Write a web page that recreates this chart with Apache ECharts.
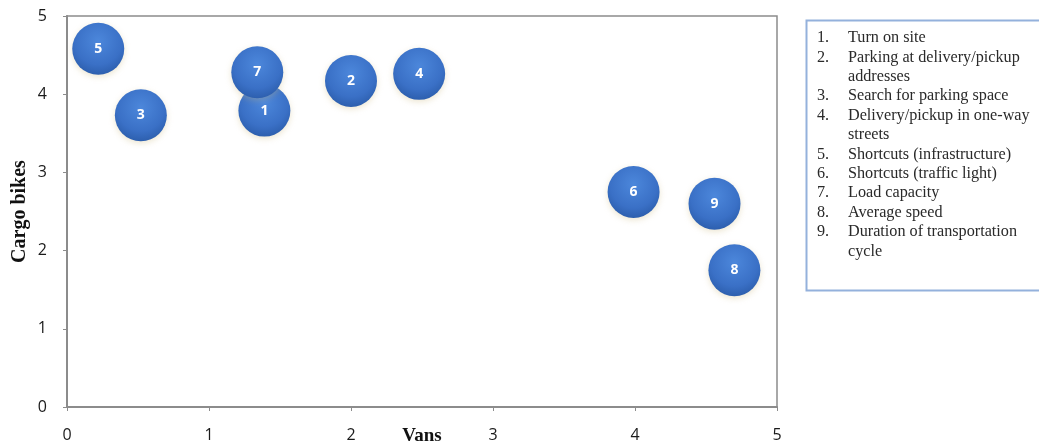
<!DOCTYPE html>
<html>
<head>
<meta charset="utf-8">
<script src="https://cdn.jsdelivr.net/npm/echarts@6/dist/echarts.min.js"></script>
<style>
html,body{margin:0;padding:0;background:#fff;}
#chart{width:1039px;height:445px;}
</style>
</head>
<body>
<div id="chart"></div>
<script>
const ids = ['1','2','3','4','5','6','7','8','9'];
const vans = [1.39, 2.00, 0.52, 2.48, 0.22, 3.99, 1.34, 4.70, 4.56];
const cargoBikes = [3.79, 4.17, 3.73, 4.26, 4.58, 2.75, 4.28, 1.75, 2.60];
const xTicks = [0, 1, 2, 3, 4, 5];
const yTicks = [0, 1, 2, 3, 4, 5];
const legendNums = ['1.', '2.', '', '3.', '4.', '', '5.', '6.', '7.', '8.', '9.', ''];
const legendLines = ['Turn on site', 'Parking at delivery/pickup', 'addresses', 'Search for parking space',
  'Delivery/pickup in one-way', 'streets', 'Shortcuts (infrastructure)', 'Shortcuts (traffic light)',
  'Load capacity', 'Average speed', 'Duration of transportation', 'cycle'];

const data = ids.map((id, i) => [vans[i], cargoBikes[i], id]);

const chart = echarts.init(document.getElementById('chart'));
const legendGraphics = [{
  type: 'rect', shape: {x: 806.5, y: 20.5, width: 240, height: 270},
  style: {fill: '#fff', stroke: '#94b1dc', lineWidth: 2}
}];
legendLines.forEach((t, i) => {
  const y = 38 + i * 19.4;
  if (legendNums[i]) legendGraphics.push({type: 'text', x: 817, y: y,
    style: {text: legendNums[i], font: '16.2px "Liberation Serif"', fill: '#2a2a2a', verticalAlign: 'middle'}});
  legendGraphics.push({type: 'text', x: 848, y: y,
    style: {text: t, font: '16.2px "Liberation Serif"', fill: '#2a2a2a', verticalAlign: 'middle'}});
});

chart.setOption({
  animation: false,
  grid: {left: 67, right: 262, top: 16, bottom: 38, outerBoundsMode: 'none', containLabel: false,
    show: true, borderColor: '#8c8c8c', borderWidth: 1.5},
  xAxis: {
    type: 'value', min: 0, max: 5, interval: 1,
    name: 'Vans', nameLocation: 'middle', nameGap: 20, nameMoveOverlap: false,
    nameTextStyle: {fontFamily: 'Liberation Serif', fontWeight: 'bold', fontSize: 19, color: '#111'},
    axisLine: {show: true, lineStyle: {color: '#8c8c8c', width: 2}},
    axisTick: {show: true, length: 4, lineStyle: {color: '#8c8c8c'}},
    axisLabel: {fontFamily: 'Open Sans', fontSize: 16, color: '#1a1a1a', margin: 20,
      formatter: v => xTicks.includes(v) ? String(v) : ''},
    splitLine: {show: false}
  },
  yAxis: {
    type: 'value', min: 0, max: 5, interval: 1,
    name: 'Cargo bikes', nameLocation: 'middle', nameGap: 37, nameMoveOverlap: false,
    nameTextStyle: {fontFamily: 'Liberation Serif', fontWeight: 'bold', fontSize: 20, color: '#111'},
    axisLine: {show: true, lineStyle: {color: '#8c8c8c', width: 2}},
    axisTick: {show: true, length: 4, lineStyle: {color: '#8c8c8c'}},
    axisLabel: {fontFamily: 'Open Sans', fontSize: 16, color: '#1a1a1a', margin: 20,
      formatter: v => yTicks.includes(v) ? String(v) : ''},
    splitLine: {show: false}
  },
  series: [{
    type: 'scatter',
    data: data,
    symbolSize: 52,
    itemStyle: {
      opacity: 1,
      color: new echarts.graphic.RadialGradient(0.5, 0.35, 0.65, [
        {offset: 0, color: '#4c87db'},
        {offset: 0.7, color: '#3a70c6'},
        {offset: 1, color: '#2d5fae'}
      ]),
      shadowBlur: 6, shadowColor: 'rgba(200,180,120,0.35)', shadowOffsetY: 2
    },
    label: {show: true, formatter: p => p.value[2], color: '#fff', fontFamily: 'Open Sans',
      fontWeight: 'bold', fontSize: 14}
  }],
  graphic: legendGraphics
});
</script>
</body>
</html>
